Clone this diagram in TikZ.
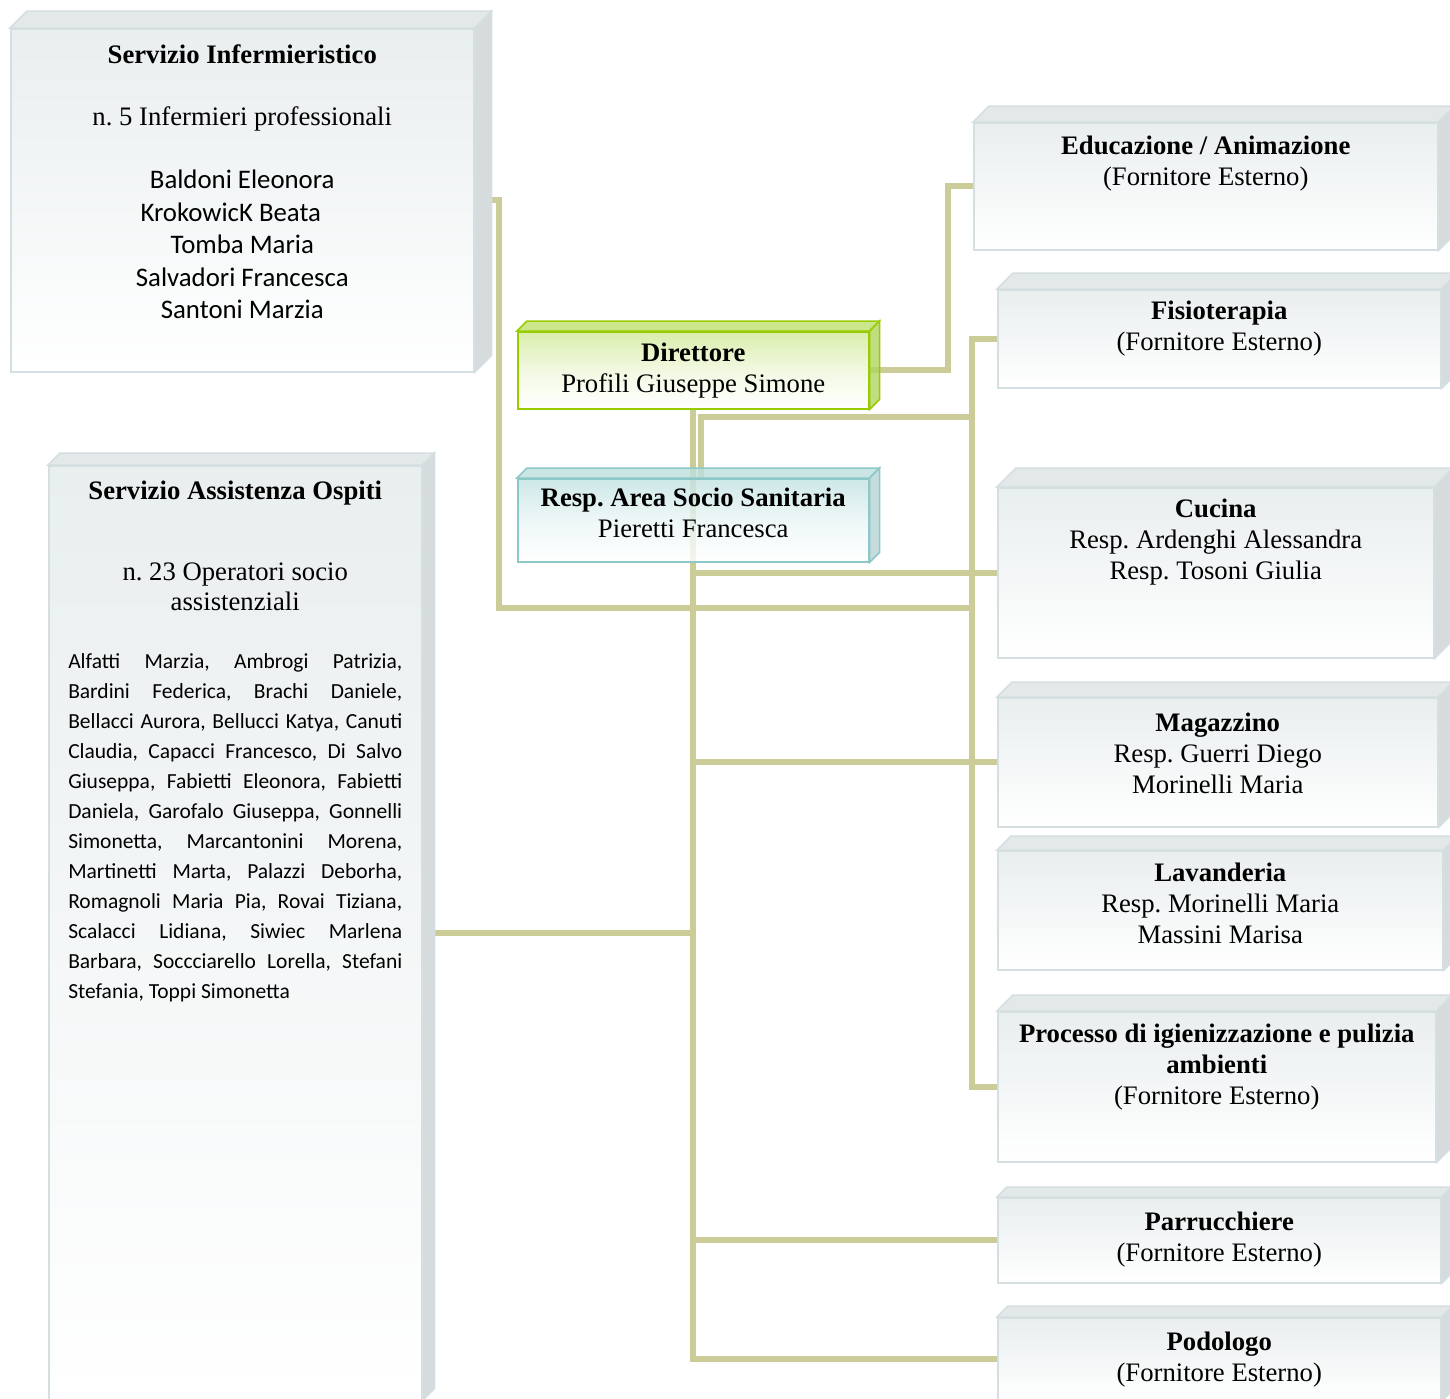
\documentclass[tikz,border=0pt]{standalone}
\usepackage{fontspec}
\setmainfont{Liberation Serif}
\newfontfamily\namefont{Carlito}
\usetikzlibrary{positioning,backgrounds}
\frenchspacing

\definecolor{linkcol}{RGB}{204,204,153}
\definecolor{linebox}{RGB}{213,223,225}
\definecolor{shadebox}{RGB}{233,238,239}
\definecolor{topbox}{RGB}{227,232,233}
\definecolor{sidebox}{RGB}{214,220,221}
\definecolor{linedir}{RGB}{153,204,0}
\definecolor{shadedir}{RGB}{208,233,150}
\definecolor{topdir}{RGB}{190,224,110}
\definecolor{sidedir}{RGB}{176,212,96}
\definecolor{lineresp}{RGB}{140,200,200}
\definecolor{shaderesp}{RGB}{194,226,226}
\definecolor{topresp}{RGB}{190,223,223}
\definecolor{sideresp}{RGB}{182,211,211}

\newcommand{\jline}[1]{\makebox[334pt][s]{#1}}

\tikzset{
  unit/.style={draw=line#1, line width=1.5pt, top color=shade#1, bottom color=white,
    anchor=north west, inner sep=0pt},
  conn/.style={draw=linkcol, line width=6pt},
  txt/.style={align=center, inner sep=0pt, font=\fontsize{26.7}{31}\selectfont},
}

\begin{document}
\begin{tikzpicture}[x=1pt, y=-1pt]
\useasboundingbox (0,0) rectangle (1450,1398);
\clip (0,0) rectangle (1450,1398);

% boxes
\node[unit=box, minimum width=463, minimum height=343] (inferm) at (10,28) {};
\node[unit=box, minimum width=373, minimum height=934] (assist) at (48,465) {};
\node[unit=dir, middle color=shadedir!35, fill opacity=0.8, minimum width=351, minimum height=77] (dir) at (517,331) {};
\node[unit=resp, middle color=shaderesp!35, fill opacity=0.8, minimum width=351, minimum height=83] (resp) at (517,478) {};
\node[unit=box, minimum width=464, minimum height=127] (educ) at (973,122) {};
\node[unit=box, minimum width=443, minimum height=98] (fisio) at (997,289) {};
\node[unit=box, minimum width=436, minimum height=170] (cucina) at (997,487) {};
\node[unit=box, minimum width=440, minimum height=129] (magaz) at (997,697) {};
\node[unit=box, minimum width=445, minimum height=119] (lavand) at (997,850) {};
\node[unit=box, minimum width=438, minimum height=150] (proc) at (997,1011) {};
\node[unit=box, minimum width=443, minimum height=85] (parr) at (997,1197) {};
\node[unit=box, minimum width=443, minimum height=83] (podol) at (997,1317) {};

% top and right faces
\foreach \n/\dep/\k/\op in {inferm/17/box/1, assist/12/box/1, dir/10/dir/0.8, resp/10/resp/0.8,
    educ/16/box/1, fisio/16/box/1, cucina/19/box/1, magaz/15/box/1, lavand/14/box/1,
    proc/16/box/1, parr/10/box/1, podol/11/box/1}
{
  \draw[line width=1.5pt, draw=line\k, fill=top\k, fill opacity=\op]
    (\n.north west) -- ++(\dep,-\dep) -- ([xshift=\dep pt, yshift=\dep pt]\n.north east)
    -- (\n.north east) -- cycle;
  \draw[line width=1.5pt, draw=line\k, fill=side\k, fill opacity=\op]
    (\n.north east) -- ++(\dep,-\dep) -- ([xshift=\dep pt, yshift=\dep pt]\n.south east)
    -- (\n.south east) -- cycle;
}

\coordinate (bus-up) at (972,417);
\coordinate (bus-low) at (972,608);

% connectors
\begin{pgfonlayer}{background}
  \draw[conn] (fisio.west) -- ++(-25,0) |- (proc.west);
  \draw[conn] (inferm.east) -- ++(24,0) |- (bus-low);
  \draw[conn] ([xshift=8pt]resp.north) |- (bus-up);
  \draw[conn] (dir) -| ([xshift=-25pt]educ.west) -- (educ.west);
  \draw[conn] (dir) |- (podol.west);
  \foreach \n in {cucina, magaz, parr}
    \draw[conn] (dir |- \n.west) -- (\n.west);
  \draw[conn] (assist.east) -- (dir |- assist.east);
\end{pgfonlayer}

% texts
\node[txt, below=16pt of inferm.north] (inferm-t)
  {\textbf{Servizio Infermieristico}\\[31pt]n. 5 Infermieri professionali};
\node[txt, font=\namefont\fontsize{26.8}{32.4}\selectfont, below=142pt of inferm.north] (inferm-n)
  {Baldoni Eleonora\\KrokowicK Beata\hspace*{23pt}\mbox{}\\Tomba Maria\\Salvadori Francesca\\Santoni Marzia};

\node[txt, font=\fontsize{26.7}{30}\selectfont, below=16pt of assist.north] (assist-t)
  {\textbf{Servizio Assistenza Ospiti}\\[51pt]n. 23 Operatori socio\\assistenziali};
\node[txt, font=\namefont\fontsize{21.5}{30}\selectfont, below=188pt of assist.north] (assist-n)
  {\jline{Alfatti Marzia, Ambrogi Patrizia,}\\
   \jline{Bardini Federica, Brachi Daniele,}\\
   \jline{Bellacci Aurora, Bellucci Katya, Canuti}\\
   \jline{Claudia, Capacci Francesco, Di Salvo}\\
   \jline{Giuseppa, Fabietti Eleonora, Fabietti}\\
   \jline{Daniela, Garofalo Giuseppa, Gonnelli}\\
   \jline{Simonetta, Marcantonini Morena,}\\
   \jline{Martinetti Marta, Palazzi Deborha,}\\
   \jline{Romagnoli Maria Pia, Rovai Tiziana,}\\
   \jline{Scalacci Lidiana, Siwiec Marlena}\\
   \jline{Barbara, Soccciarello Lorella, Stefani}\\
   \makebox[334pt][l]{Stefania, Toppi Simonetta}};

\node[txt, below=12pt of dir.north] (dir-t) {\textbf{Direttore}\\Profili Giuseppe Simone};
\node[txt, below=10pt of resp.north] (resp-t) {\textbf{Resp. Area Socio Sanitaria}\\Pieretti Francesca};
\node[txt, below=14pt of educ.north] (educ-t) {\textbf{Educazione / Animazione}\\(Fornitore Esterno)};
\node[txt, below=12pt of fisio.north] (fisio-t) {\textbf{Fisioterapia}\\(Fornitore Esterno)};
\node[txt, below=12pt of cucina.north] (cucina-t)
  {\textbf{Cucina}\\Resp. Ardenghi Alessandra\\Resp. Tosoni Giulia};
\node[txt, below=16pt of magaz.north] (magaz-t)
  {\textbf{Magazzino}\\Resp. Guerri Diego\\Morinelli Maria};
\node[txt, below=13pt of lavand.north] (lavand-t)
  {\textbf{Lavanderia}\\Resp. Morinelli Maria\\Massini Marisa};
\node[txt, below=13pt of proc.north] (proc-t)
  {\textbf{Processo di igienizzazione e pulizia}\\\textbf{ambienti}\\(Fornitore Esterno)};
\node[txt, below=15pt of parr.north] (parr-t) {\textbf{Parrucchiere}\\(Fornitore Esterno)};
\node[txt, below=15pt of podol.north] (podol-t) {\textbf{Podologo}\\(Fornitore Esterno)};

\end{tikzpicture}
\end{document}
